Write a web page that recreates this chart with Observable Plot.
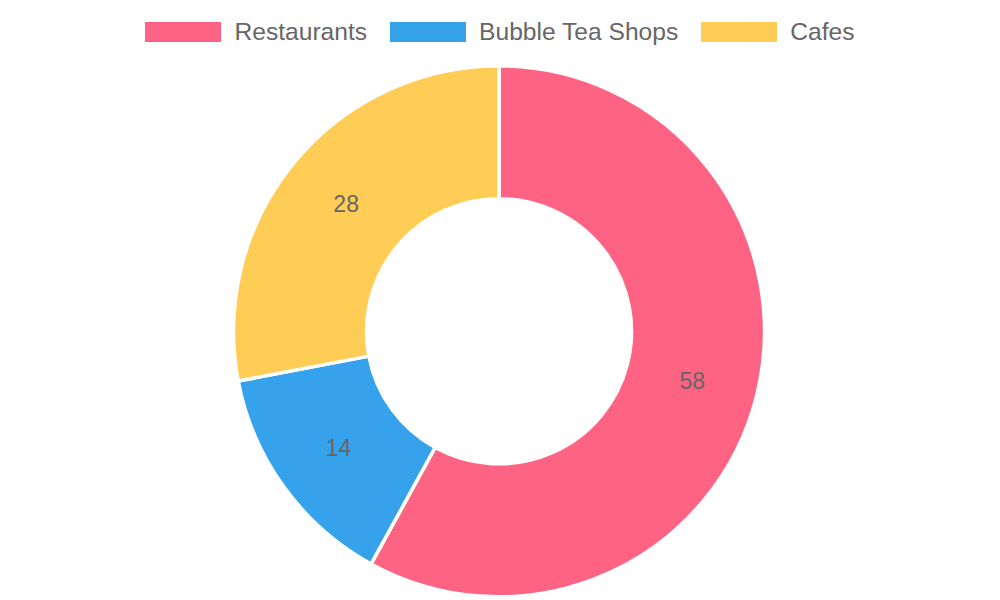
<!DOCTYPE html>
<html>
<head>
<meta charset="utf-8">
<script src="https://cdn.jsdelivr.net/npm/d3@7"></script>
<script src="https://cdn.jsdelivr.net/npm/@observablehq/plot@0.6"></script>
<style>
  html, body { margin: 0; padding: 0; background: #fff; }
  body { width: 1000px; height: 600px; overflow: hidden; font-family: "Liberation Sans", Arial, Helvetica, sans-serif; }
  #legend { height: 64px; display: flex; justify-content: center; align-items: center; color: #666; font-size: 24.6px; }
  .item { display: flex; align-items: center; margin: 0 11.5px; }
  .swatch { width: 76px; height: 20px; margin-right: 13px; }
  #chart svg { display: block; }
</style>
</head>
<body>
<div id="legend"></div>
<div id="chart"></div>
<script>
const categories = ["Restaurants", "Bubble Tea Shops", "Cafes"];
const values = [58, 14, 28];
const colors = ["#ff6384", "#36a2eb", "#ffcd56"];

const W = 1000, H = 536;
const outerR = 265.5, innerR = 132.5;

// legend
const legend = d3.select("#legend");
categories.forEach((c, i) => {
  const it = legend.append("div").attr("class", "item");
  it.append("div").attr("class", "swatch").style("background", colors[i]);
  it.append("span").text(c);
});

const data = categories.map((c, i) => ({category: c, value: values[i], color: colors[i]}));
const arcs = d3.pie().sort(null).value(d => d.value)(data);
const arcGen = d3.arc();
const labelData = arcs.map(a => {
  const mid = (a.startAngle + a.endAngle) / 2;
  const r = (outerR + innerR) / 2;
  return {label: String(a.data.value), x: r * Math.sin(mid), y: r * Math.cos(mid)};
});

const donut = (index, scales, vals, dimensions) => {
  const g = d3.create("svg:g");
  const cx = scales.x(0), cy = scales.y(0);
  const k = Math.abs(scales.x(1) - scales.x(0));
  g.attr("transform", `translate(${cx},${cy})`);
  g.selectAll("path").data(arcs).join("path")
    .attr("d", a => arcGen({innerRadius: innerR * k, outerRadius: outerR * k, startAngle: a.startAngle, endAngle: a.endAngle}))
    .attr("fill", a => a.data.color)
    .attr("stroke", "#fff")
    .attr("stroke-width", 3.5)
    .attr("stroke-linejoin", "round");
  return g.node();
};

const chart = Plot.plot({
  width: W,
  height: H,
  margin: 0,
  x: {domain: [-499, 501], axis: null},
  y: {domain: [-268.7, 267.3], axis: null},
  style: {fontFamily: "'Liberation Sans', Arial, Helvetica, sans-serif", background: "#fff"},
  marks: [
    donut,
    Plot.text(labelData, {x: "x", y: "y", text: "label", fontSize: 23, fill: "#666"})
  ]
});
document.getElementById("chart").appendChild(chart);
</script>
</body>
</html>
